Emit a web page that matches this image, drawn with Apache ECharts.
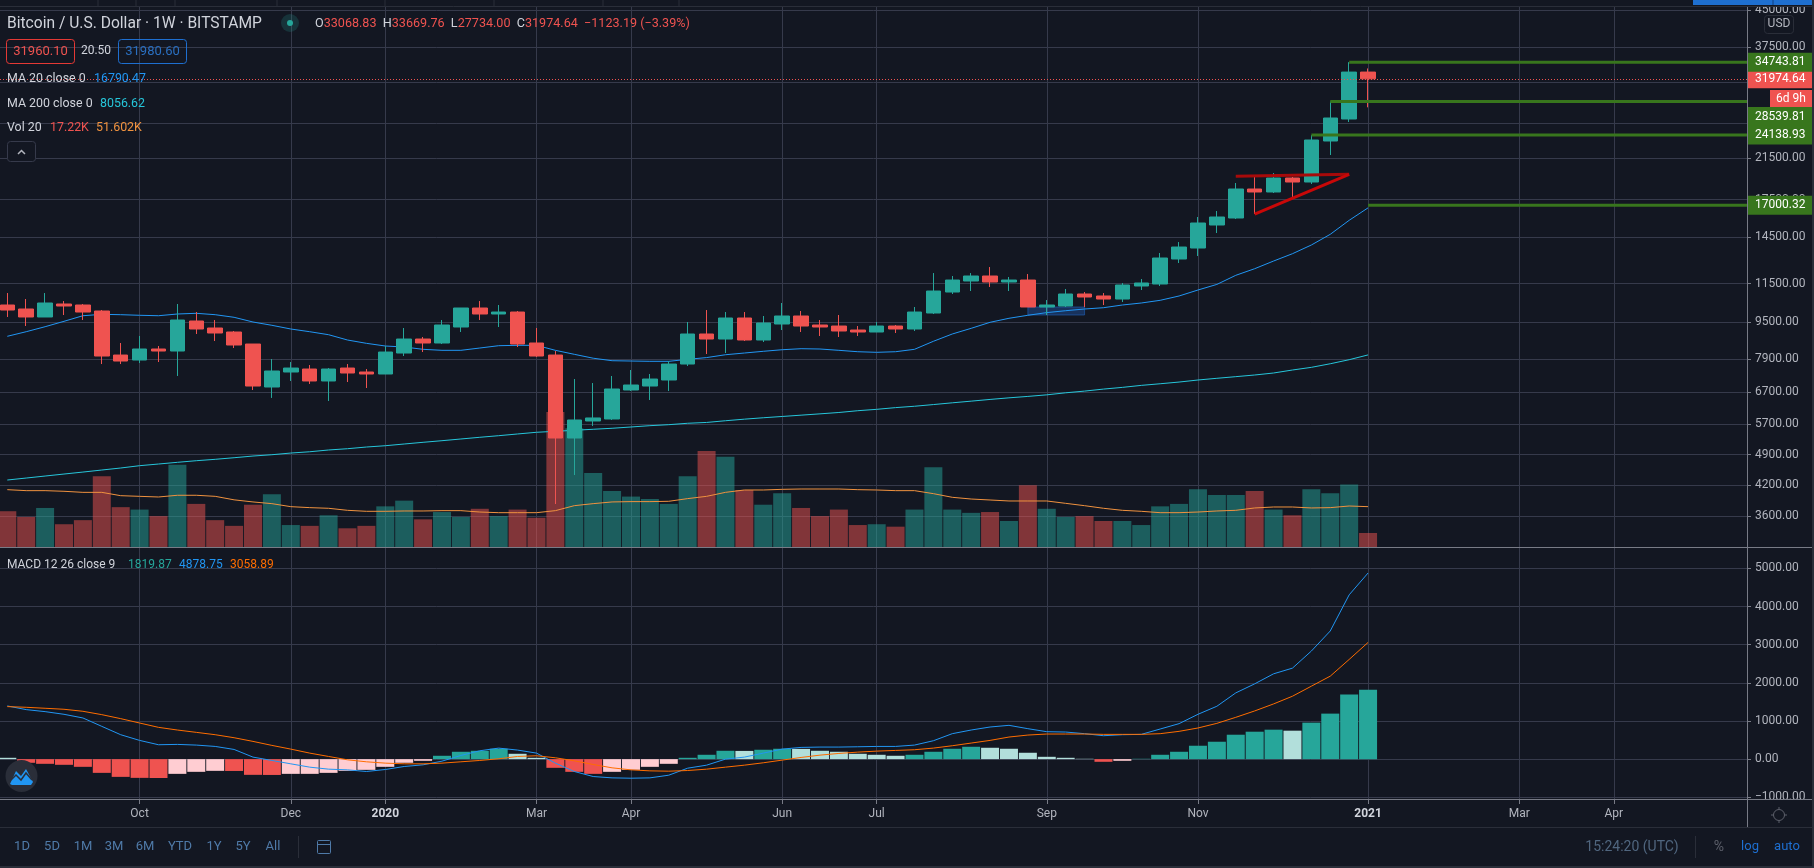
<!DOCTYPE html>
<html>
<head>
<meta charset="utf-8">
<title>BTCUSD 1W</title>
<style>
    *{margin:0;padding:0;}
    html,body{width:1814px;height:868px;background:#131722;overflow:hidden;}
    #main{width:1814px;height:868px;}
</style>
</head>
<body>
<div id="main"></div>
<script src="https://cdn.jsdelivr.net/npm/echarts@6/dist/echarts.min.js"></script>
<script>
// weekly candles
var candleOpen = [10336,10132,9736,10388,10336,10031,8052,7854,8298,8215,9543,9215,9033,8507,6864,7398,7509,7073,7546,7398,7324,8133,8722,8550,9261,10183,9882,9981,8550,8052,5321,5793,5851,6762,6898,7108,7698,8943,8722,9687,8679,9401,9784,9354,9307,9123,9033,9307,9169,9932,11029,11652,11947,11594,11710,10234,10285,10920,10812,10650,11365,11479,13005,13738,15411,15959,18445,18172,19486,19101,23440,26162,33068.83];
var candleClose = [10081,9736,10440,10285,9981,8012,7815,8298,8215,9590,9169,8988,8465,6898,7435,7546,7073,7509,7361,7324,8174,8722,8550,9354,10183,9882,9981,8507,8012,5321,5822,5881,6796,6933,7143,7698,8943,8722,9687,8679,9448,9784,9307,9261,9078,9033,9307,9169,9981,11084,11710,11947,11594,11710,10234,10336,10920,10758,10650,11422,11536,13070,13807,15566,16039,18445,18172,19486,19101,23557,26293,33069,31974.64];
var candleLow = [9736,9307,9736,9833,9590,7698,7698,7737,7776,7252,8943,8636,8339,6762,6499,7073,6968,6401,7037,6830,7324,8012,8174,8507,9033,9590,9261,8381,7972,3827,4423,5651,5822,6728,6433,6728,7622,8093,8133,8636,8593,9123,9033,8854,8810,8854,9033,8988,9078,9882,10920,11084,11309,11084,10234,9833,10234,10234,10336,10492,11140,11365,12747,13201,14806,15880,16280,18081,17635,18911,21857,25773,27734];
var candleHigh = [10974,10650,10974,10544,10388,10081,8550,8854,8423,10388,9981,9590,9078,8507,7893,7776,7660,7546,7698,7509,8423,9215,8810,9590,10183,10544,10336,10031,9215,8215,7143,7002,7252,7472,7324,7815,9495,10081,9981,9981,9784,10440,10031,9590,9833,9307,9495,9354,10234,12125,11947,12125,12495,11888,12065,10597,11196,11029,10974,11536,11768,13400,14155,16039,16527,19006,19681,19978,19583,24139,28540,34744,33669.76];
var volume = [44,37,48,28,33,87,49,46,38,101,53,33,26,52,65,27,26,39,23,26,50,57,34,43,37,47,38,46,36,166,146,91,69,62,59,53,87,118,111,70,52,66,48,38,46,27,28,25,46,98,46,42,43,32,76,47,37,38,32,32,27,50,53,71,64,64,69,46,39,71,66,77,17.22];
var volumeMA = [70.5,69.3,69.3,68.5,67.2,67.2,63.1,62.3,61.5,63.6,63.6,62.3,58,55.4,53.3,49.6,48.4,47.6,45.1,43.9,43.9,44.3,44.3,44.7,44.7,43,42.2,42.2,42.2,44.7,50.8,53.3,55.4,55.8,55.8,56.2,59.5,62.3,67.2,70.1,70.1,70.9,71.3,71.3,71.3,70.5,70.1,69.3,69.3,65.6,61.1,59,57.8,56.6,56.6,56.6,53.7,50.8,47.6,45.1,43.9,42.2,42.2,43,44.3,45.1,48,49.2,49.2,48,48.4,50.4,49.6];
var ma20 = [8841,9046,9275,9528,9798,9867,9848,9819,9798,9882,9917,9848,9721,9495,9340,9169,9046,8912,8679,8537,8423,8381,8285,8244,8244,8339,8436,8452,8452,8244,8081,7925,7827,7815,7803,7803,7881,7950,8064,8133,8203,8268,8310,8298,8244,8186,8162,8186,8285,8623,8943,9201,9481,9673,9819,9952,10046,10132,10198,10336,10440,10581,10812,11140,11456,11988,12390,12874,13353,13946,14711,15776,16790.47];
var ma200 = [4314,4357,4401,4445,4489,4535,4581,4634,4673,4713,4751,4784,4822,4863,4895,4936,4968,5012,5044,5087,5120,5164,5208,5250,5295,5340,5383,5429,5475,5502,5530,5558,5586,5622,5659,5687,5727,5751,5800,5846,5887,5925,5964,6003,6044,6098,6140,6193,6235,6288,6343,6396,6451,6503,6549,6601,6668,6725,6793,6851,6920,6976,7036,7108,7169,7228,7288,7361,7472,7572,7709,7866,8056.62];
var macdLine = [1394,1298,1245,1175,1079,859,640,491,377,386,368,333,254,53,-35,-123,-210,-263,-281,-324,-272,-193,-149,-53,96,219,289,237,158,-105,-324,-456,-491,-500,-491,-421,-237,-158,0,53,158,263,307,316,316,324,333,333,368,482,667,763,842,886,798,719,710,667,614,640,649,789,930,1175,1386,1736,1973,2236,2385,2833,3359,4306,4878.75];
var signalLine = [1377,1359,1333,1307,1254,1166,1061,947,833,763,702,640,561,465,360,263,158,70,-18,-70,-105,-123,-123,-105,-70,-35,9,70,88,35,-44,-140,-228,-281,-307,-316,-298,-263,-210,-158,-96,-26,44,105,149,184,210,228,246,289,351,421,491,579,631,658,658,658,649,649,649,667,728,816,938,1096,1263,1447,1649,1912,2175,2613,3058.89];
var macdHist = [35,-96,-123,-149,-202,-360,-465,-491,-495,-386,-333,-307,-310,-412,-415,-386,-386,-360,-307,-281,-202,-96,-44,88,193,219,272,140,35,-228,-333,-386,-333,-281,-202,-123,35,114,219,215,246,272,268,219,193,140,114,88,114,193,272,324,298,272,167,61,35,9,-70,-44,9,114,193,351,456,640,719,772,746,956,1193,1693,1819.87];

var priceTicks = [45000,37500,31500,25600,21500,17500,14500,11500,9500,7900,6700,5700,4900,4200,3600];
var macdTicks = [-1000,0,1000,2000,3000,4000,5000];
var monthIndex = [7,15,20,28,33,41,46,55,63,72,80,85];
var monthLabel = ['Oct','Dec','2020','Mar','Apr','Jun','Jul','Sep','Nov','2021','Mar','Apr'];

// horizontal levels: week they start from, and the price
var levelStart = [71,70,69,72];
var levelPrice = [34743.81,28539.81,24138.93,17000.32];
var levelLabelDrop = [0,15,0,0];
var wedgeTop = [[65,19652],[71,19849]];
var wedgeLow = [[71,19849],[66,16280]];
var boxWeeks = [54,57];
var boxPrices = [10234,9833];

var GREEN = '#26a69a', RED = '#ef5350', BG = '#131722', GRID = '#363a4b', AXIS = '#787b86', TXT = '#b2b5be';
var FONT = 'Roboto, sans-serif';
var xMin = -0.386, xMax = 92.05;

function pairs(arr){ return arr.map(function(v,i){ return [i,v]; }); }
function histColor(v,i){
    var prev = i>0 ? macdHist[i-1] : Infinity;
    if(v>=0) return v>prev ? GREEN : '#b2dfdb';
    return v<prev ? RED : '#ffcdd2';
}
function fmt(v){ return (v<0?'\u2212':'')+Math.abs(v).toFixed(2); }

var candleData = candleOpen.map(function(o,i){ return [i,o,candleClose[i],candleLow[i],candleHigh[i]]; });
var volData = volume.map(function(v,i){
    return {value:[i,v], itemStyle:{color:candleClose[i]>=candleOpen[i]?'rgba(38,166,154,0.5)':'rgba(239,83,80,0.5)'}};
});
var histData = macdHist.map(function(v,i){ return {value:[i,v], itemStyle:{color:histColor(v,i)}}; });

function xAxisOf(grid,labels){
    return {
        type:'value', gridIndex:grid, min:xMin, max:xMax, position:'bottom',
        axisLine:{show:labels,onZero:false,lineStyle:{color:AXIS,width:1}},
        axisTick:{show:labels,length:5,customValues:monthIndex,lineStyle:{color:AXIS}},
        axisLabel:{
            show:labels, customValues:monthIndex, margin:9, color:TXT, fontFamily:FONT, fontSize:12,
            formatter:function(v){
                var t = monthLabel[monthIndex.indexOf(v)];
                return (t=='2020'||t=='2021') ? '{y|'+t+'}' : t;
            },
            rich:{y:{color:'#d1d4dc',fontWeight:'bold',fontFamily:FONT,fontSize:12}}
        },
        splitLine:{show:true,lineStyle:{color:GRID,width:1}}
    };
}
function priceAxisOf(grid,type,min,max,ticks){
    return {
        type:type, gridIndex:grid, position:'right', min:min, max:max,
        axisLine:{show:true,onZero:false,lineStyle:{color:AXIS}},
        axisTick:{show:true,length:4,customValues:ticks,lineStyle:{color:AXIS}},
        axisLabel:{show:true,customValues:ticks,margin:8,color:TXT,fontFamily:FONT,fontSize:12,formatter:fmt,showMinLabel:true,showMaxLabel:true},
        splitLine:{show:true,lineStyle:{color:GRID,width:1}}
    };
}

var series = [
    {name:'Vol',type:'bar',xAxisIndex:0,yAxisIndex:1,barWidth:18,data:volData,z:1,animation:false},
    {name:'Vol MA',type:'line',xAxisIndex:0,yAxisIndex:1,data:pairs(volumeMA),showSymbol:false,symbol:'none',lineStyle:{color:'#f0923f',width:1},z:2},
    {name:'MA 200',type:'line',xAxisIndex:0,yAxisIndex:0,data:pairs(ma200),symbol:'none',lineStyle:{color:'#26c6da',width:1},z:3},
    {name:'MA 20',type:'line',xAxisIndex:0,yAxisIndex:0,data:pairs(ma20),symbol:'none',lineStyle:{color:'#2196f3',width:1},z:3},
    {
        name:'BTCUSD',type:'candlestick',xAxisIndex:0,yAxisIndex:0,barWidth:15,z:4,
        encode:{x:0,y:[1,2,3,4]},
        data:candleData,
        itemStyle:{color:GREEN,color0:RED,borderColor:GREEN,borderColor0:RED,borderWidth:1},
        markLine:{
            silent:true,symbol:'none',animation:false,
            lineStyle:{color:RED,type:[1,2],width:1},
            label:{position:'end',distance:0,formatter:'31974.64',color:'#fff',backgroundColor:RED,padding:[3,8,3,8],fontFamily:FONT,fontSize:12,lineHeight:13},
            data:[{yAxis:31974.64}]
        },
        markArea:{
            silent:true,animation:false,
            itemStyle:{color:'rgba(33,100,200,0.35)',borderColor:'rgba(33,110,210,0.5)',borderWidth:1},
            data:[[{coord:[boxWeeks[0],boxPrices[0]]},{coord:[boxWeeks[1],boxPrices[1]]}]]
        }
    },
    {name:'wedge top',type:'line',xAxisIndex:0,yAxisIndex:0,data:wedgeTop,symbol:'none',lineStyle:{color:'#a80a0a',width:3},z:5},
    {name:'wedge low',type:'line',xAxisIndex:0,yAxisIndex:0,data:wedgeLow,symbol:'none',lineStyle:{color:'#c80808',width:3},z:5},
    {name:'MACD hist',type:'bar',xAxisIndex:1,yAxisIndex:2,barWidth:18,data:histData,z:1},
    {name:'MACD',type:'line',xAxisIndex:1,yAxisIndex:2,data:pairs(macdLine),symbol:'none',lineStyle:{color:'#2196f3',width:1},z:3},
    {name:'Signal',type:'line',xAxisIndex:1,yAxisIndex:2,data:pairs(signalLine),symbol:'none',lineStyle:{color:'#ff6d00',width:1},z:3}
];
levelPrice.forEach(function(p,k){
    series.push({
        name:'level '+p,type:'line',xAxisIndex:0,yAxisIndex:0,z:6,symbol:'none',
        data:[[levelStart[k],p],[xMax,p]],
        lineStyle:{color:'#38761d',width:3},
        endLabel:{
            show:true,distance:0,offset:[0,levelLabelDrop[k]],formatter:p.toFixed(2),color:'#fff',
            backgroundColor:'#38761d',padding:[3,8,3,8],fontFamily:FONT,fontSize:12,lineHeight:13
        }
    });
});

// page furniture around the plot
function txt(x,y,text,fill,size,extra){
    var o = {type:'text',z:100,style:{x:x,y:y,text:text,fill:fill,font:(size||12)+'px Roboto, sans-serif',verticalAlign:'middle'}};
    if(extra) for(var k in extra) o.style[k]=extra[k];
    return o;
}
function rect(x,y,w,h,fill,stroke,r){
    return {type:'rect',z:99,shape:{x:x,y:y,width:w,height:h,r:r||0},style:{fill:fill||'none',stroke:stroke||'none',lineWidth:1}};
}
function seg(x1,y1,x2,y2,c,w){
    return {type:'line',z:99,shape:{x1:x1,y1:y1,x2:x2,y2:y2},style:{stroke:c,lineWidth:w||1}};
}
var furniture = [
    // top strip, bottom strip, right strip
    rect(0,0,1814,6,BG),
    seg(0,6.5,1814,6.5,'#2a2e39'),
    rect(1693,0,121,5,'#1e6fd0'),
    seg(1773,0,1773,5,'#0f3f80'),
    seg(98,0,98,6,'#2a2e39'),seg(136,0,136,6,'#2a2e39'),seg(175,0,175,6,'#2a2e39'),seg(277,0,277,6,'#2a2e39'),
    seg(385,0,385,6,'#2a2e39'),seg(494,0,494,6,'#2a2e39'),seg(603,0,603,6,'#2a2e39'),seg(679,0,679,6,'#2a2e39'),
    rect(1747.5,799.5,66,28,BG),
    rect(0,866,1814,2,'#2a2e39'),
    rect(1812,0,2,868,'#2a2e39'),
    seg(0,547.5,1812,547.5,AXIS,1),
    seg(0,799.5,1812,799.5,AXIS,1),
    seg(1747.5,7,1747.5,827,AXIS,1),
    seg(0,827.5,1812,827.5,'#2a2e39',1),

    // header
    txt(7,24,'Bitcoin / U.S. Dollar \u00b7 1W \u00b7 BITSTAMP','#d1d4dc',15.6),
    {type:'circle',z:99,shape:{cx:290,cy:23,r:9},style:{fill:'rgba(38,166,154,0.2)'}},
    {type:'circle',z:100,shape:{cx:290,cy:23,r:3},style:{fill:GREEN}},
    {type:'text',z:100,style:{x:315,y:24,verticalAlign:'middle',font:'12.6px Roboto, sans-serif',
        text:'{w|O}{r|33068.83}  {w|H}{r|33669.76}  {w|L}{r|27734.00}  {w|C}{r|31974.64}  {r|\u22121123.19 (\u22123.39%)}',
        rich:{w:{fill:'#d1d4dc',font:'12.6px Roboto, sans-serif'},r:{fill:RED,font:'12.6px Roboto, sans-serif'}}}},
    rect(6.5,39.5,68,24,'none','#e53935',3),
    txt(40.5,51.5,'31960.10',RED,13,{align:'center'}),
    txt(96,51,'20.50','#d1d4dc',12,{align:'center'}),
    rect(118.5,39.5,68,24,'none','#1e6fd0',3),
    txt(152.5,51.5,'31980.60','#2a6fc0',13,{align:'center'}),
    txt(7,79,'MA 20 close 0','#d1d4dc',12.4),
    txt(94,79,'16790.47','#2196f3',12.4),
    txt(7,104,'MA 200 close 0','#d1d4dc',12.4),
    txt(100,104,'8056.62','#26c6da',12.4),
    txt(7,128,'Vol 20','#d1d4dc',12.4),
    txt(50,128,'17.22K',RED,12.4),
    txt(96,128,'51.602K','#f0923f',12.4),
    rect(7.5,141.5,28,20,BG,'#363a4b',3),
    {type:'polyline',z:100,shape:{points:[[18,154],[21.5,150.5],[25,154]]},style:{stroke:'#b2b5be',fill:'none',lineWidth:1.5}},
    txt(7,564.5,'MACD 12 26 close 9','#d1d4dc',12),
    txt(128,564.5,'1819.87',GREEN,12),
    txt(179,564.5,'4878.75','#2196f3',12),
    txt(230,564.5,'3058.89','#ff6d00',12),

    // currency box, countdown
    rect(1764.5,15.5,29,18,BG,'#2a2e39',3),
    txt(1779,24,'USD','#b2b5be',12,{align:'center'}),
    rect(1770,90,42,17,RED),
    txt(1791,98.5,'6d 9h','#fff',12,{align:'center'}),

    // logo
    {type:'circle',z:99,shape:{cx:21.5,cy:776,r:16},style:{fill:'#2a2e39'}},
    {type:'polygon',z:100,shape:{points:[[10,784],[16,771],[21,776],[26,769],[33,782],[31,785],[12,785]]},style:{fill:'#2196f3'}},
    {type:'polyline',z:100,shape:{points:[[11,780],[16,775],[21,780],[26,773],[32,780]]},style:{stroke:'#2a2e39',fill:'none',lineWidth:1.5}},

    // gear
    {type:'circle',z:100,shape:{cx:1779,cy:815,r:5.5},style:{fill:'none',stroke:'#5d606b',lineWidth:1}},
    seg(1779,807,1779,809,'#5d606b'),seg(1779,821,1779,823,'#5d606b'),seg(1771,815,1773,815,'#5d606b'),seg(1785,815,1787,815,'#5d606b'),

    // footer
    txt(22,847,'1D','#4f7aa8',13,{align:'center'}),
    txt(52,847,'5D','#4f7aa8',13,{align:'center'}),
    txt(83,847,'1M','#4f7aa8',13,{align:'center'}),
    txt(114,847,'3M','#4f7aa8',13,{align:'center'}),
    txt(145,847,'6M','#4f7aa8',13,{align:'center'}),
    txt(180,847,'YTD','#4f7aa8',13,{align:'center'}),
    txt(214,847,'1Y','#4f7aa8',13,{align:'center'}),
    txt(243,847,'5Y','#4f7aa8',13,{align:'center'}),
    txt(273,847,'All','#4f7aa8',13,{align:'center'}),
    seg(298.5,836,298.5,858,'#2a2e39'),
    rect(317.5,840.5,13,13,'none','#4f7aa8',1),
    seg(317,844.5,331,844.5,'#4f7aa8'),
    txt(1632,847,'15:24:20 (UTC)','#50667f',14,{align:'center'}),
    seg(1695.5,836,1695.5,858,'#2a2e39'),
    txt(1719,847,'%','#5d606b',14,{align:'center'}),
    txt(1750,847,'log','#1e6fd0',13,{align:'center'}),
    txt(1787,847,'auto','#1e6fd0',13,{align:'center'})
];

var myChart = echarts.init(document.getElementById('main'));
myChart.setOption({
    backgroundColor:BG,
    animation:false,
    grid:[
        {left:0,width:1747,top:7,height:540},
        {left:0,width:1747,top:548,height:251}
    ],
    xAxis:[xAxisOf(0,false),xAxisOf(1,true)],
    yAxis:[
        priceAxisOf(0,'log',3088,45763,priceTicks),
        {type:'value',gridIndex:0,min:0,max:664,show:false,splitLine:{show:false}},
        priceAxisOf(1,'value',-1045,5534,macdTicks)
    ],
    series:series,
    graphic:furniture
});
</script>
</body>
</html>
